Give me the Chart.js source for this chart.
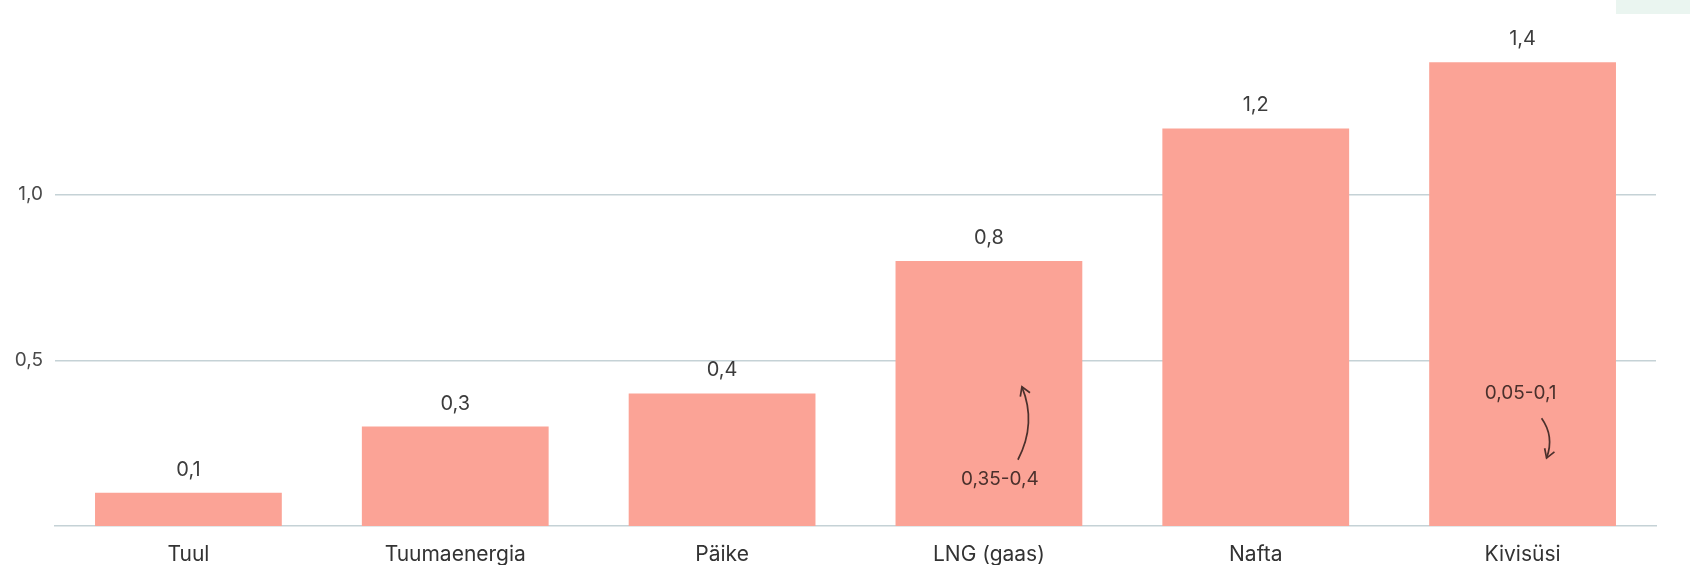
<!DOCTYPE html>
<html>
<head>
  <meta charset="utf-8">
  <title>Energiaallikad</title>
  <script src="https://cdn.jsdelivr.net/npm/chart.js"></script>
  <style>
    body {
      margin: 0;
      padding: 0;
      background-color: #ffffff;
      font-family: Inter, Roboto, sans-serif;
    }

    .wrap {
      position: relative;
      width: 1690px;
      height: 565px;
    }

    .corner {
      position: absolute;
      top: 0;
      right: 0;
      width: 74px;
      height: 14px;
      background-color: #eaf5f0; /* light mint tab */
    }
  </style>
</head>
<body>
  <div class="wrap">
    <canvas id="sourcesChart" width="1690" height="565"></canvas>
    <div class="corner"></div>
  </div>
  <script>
    const categories = ['Tuul', 'Tuumaenergia', 'Päike', 'LNG (gaas)', 'Nafta', 'Kivisüsi'];
    const values = [0.1, 0.3, 0.4, 0.8, 1.2, 1.4];
    const yTicks = [0.5, 1.0];

    const noteTexts = ['0,35-0,4', '0,05-0,1'];
    const noteBars = [3, 5];

    const fmt = v => v.toFixed(1).replace('.', ',');

    // text + curved arrow placement, relative to the bar centre (px) and value axis
    const noteLayout = [
      { dx: 11, v: 0.14, from: [29, 0.20], ctrl: [48, 0.31], to: [33, 0.42] },
      { dx: -2, v: 0.40, from: [19, 0.325], ctrl: [32, 0.27], to: [24, 0.205] }
    ];

    const valueLabels = {
      id: 'valueLabels',
      afterDatasetsDraw(chart) {
        const ctx = chart.ctx;
        const meta = chart.getDatasetMeta(0);
        ctx.save();
        ctx.font = '20px Inter, Roboto, sans-serif';
        ctx.fillStyle = '#3c3c3c';
        ctx.textAlign = 'center';
        ctx.textBaseline = 'middle';
        meta.data.forEach((bar, i) => {
          ctx.fillText(fmt(values[i]), bar.x, bar.y - 23);
        });
        ctx.restore();
      }
    };

    const notes = {
      id: 'notes',
      afterDatasetsDraw(chart) {
        const ctx = chart.ctx;
        const x = chart.scales.x;
        const y = chart.scales.y;
        ctx.save();
        ctx.font = '19px Inter, Roboto, sans-serif';
        ctx.fillStyle = '#4a302c';
        ctx.strokeStyle = '#4a302c';
        ctx.lineWidth = 1.7;
        ctx.textAlign = 'center';
        ctx.textBaseline = 'middle';
        noteTexts.forEach((t, i) => {
          const cx = x.getPixelForValue(noteBars[i]);
          const L = noteLayout[i];
          ctx.fillText(t, cx + L.dx, y.getPixelForValue(L.v));

          const sx = cx + L.from[0], sy = y.getPixelForValue(L.from[1]);
          const qx = cx + L.ctrl[0], qy = y.getPixelForValue(L.ctrl[1]);
          const ex = cx + L.to[0], ey = y.getPixelForValue(L.to[1]);
          ctx.beginPath();
          ctx.moveTo(sx, sy);
          ctx.quadraticCurveTo(qx, qy, ex, ey);
          ctx.stroke();

          // arrow head
          const ang = Math.atan2(ey - qy, ex - qx);
          const len = 10;
          ctx.beginPath();
          ctx.moveTo(ex - len * Math.cos(ang - 0.55), ey - len * Math.sin(ang - 0.55));
          ctx.lineTo(ex, ey);
          ctx.lineTo(ex - len * Math.cos(ang + 0.55), ey - len * Math.sin(ang + 0.55));
          ctx.stroke();
        });
        ctx.restore();
      }
    };

    const ctx = document.getElementById('sourcesChart').getContext('2d');
    new Chart(ctx, {
      type: 'bar',
      data: {
        labels: categories,
        datasets: [{
          data: values,
          backgroundColor: '#fba396',
          borderWidth: 0,
          barPercentage: 0.7,
          categoryPercentage: 1.0
        }]
      },
      options: {
        responsive: false,
        animation: false,
        layout: {
          padding: { left: 0, right: 34, top: 29, bottom: 0 }
        },
        plugins: {
          legend: { display: false },
          tooltip: { enabled: false }
        },
        scales: {
          x: {
            grid: { display: false },
            border: { display: true, color: '#c5d2d6', width: 1.5 },
            ticks: {
              color: '#333333',
              font: { family: 'Inter, Roboto, sans-serif', size: 21 },
              padding: 8,
              maxRotation: 0
            },
            afterFit(scale) { scale.height = 39; }
          },
          y: {
            min: 0,
            max: 1.5,
            border: { display: false },
            grid: { color: '#c5d2d6', lineWidth: 1.5, drawTicks: false },
            ticks: {
              stepSize: 0.5,
              padding: 12,
              color: '#4a4a4a',
              font: { family: 'Inter, Roboto, sans-serif', size: 19 },
              callback: function(v) {
                return yTicks.some(t => Math.abs(t - v) < 1e-9) ? fmt(v) : null;
              }
            },
            afterFit(scale) { scale.width = 55; }
          }
        }
      },
      plugins: [valueLabels, notes]
    });
  </script>
</body>
</html>
